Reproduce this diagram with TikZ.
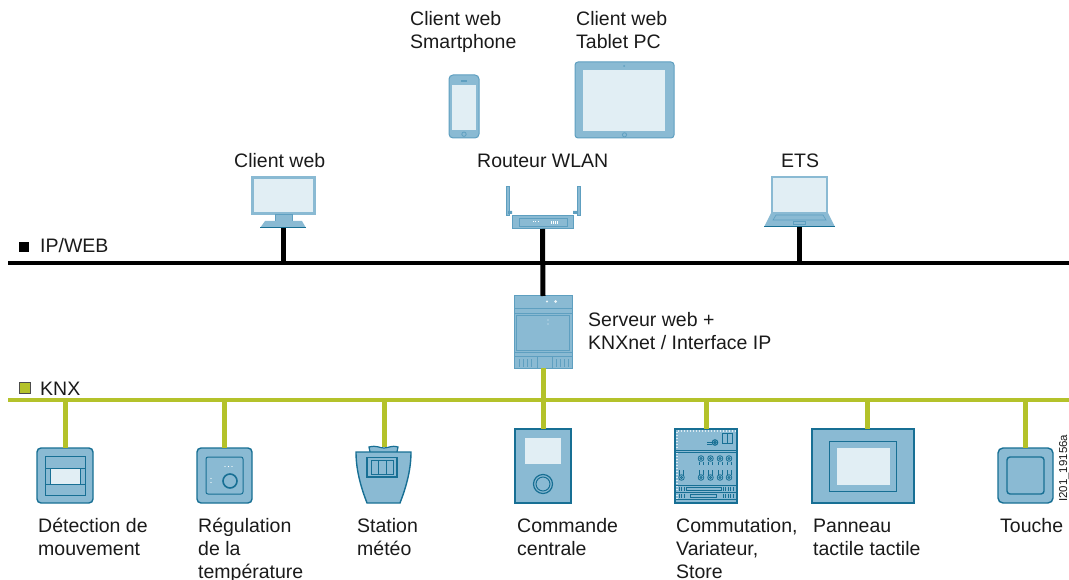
\documentclass[tikz,border=0pt]{standalone}
\usepackage{fontspec}
\setmainfont{Liberation Sans}
\definecolor{devfill}{HTML}{8ABAD3}
\definecolor{devline}{HTML}{176F94}
\definecolor{devsoft}{HTML}{5E9FC0}
\definecolor{scrfill}{HTML}{E1EEF4}
\definecolor{knxgreen}{HTML}{B4C22A}
\definecolor{txt}{HTML}{1A1A1A}
\begin{document}
\begin{tikzpicture}[x=1pt,y=-1pt,
  % multi-line labels sit on the baseline of their last line
  lbl/.style={inner sep=0pt, anchor=base west, align=left,
    font=\fontsize{19.5}{23}\selectfont, text=txt},
  ipbus/.style={line width=4.5pt, black},
  ipdrop/.style={line width=5pt, black},
  knxbus/.style={line width=4.7pt, knxgreen},
  knxdrop/.style={line width=5pt, knxgreen},
  dev/.style={fill=devfill, draw=devline, line width=1.4pt},
  devtop/.style={fill=devfill, draw=devsoft, line width=1pt},
  box/.style={inner sep=0pt, outer sep=0pt, minimum width=#1},
  scr/.style={fill=scrfill},
  detail/.style={draw=devline, line width=1pt}]
\useasboundingbox (0,0) rectangle (1069,580);

% ---------- bus lines ----------
\coordinate (ipL) at (8,263);
\coordinate (ipR) at (1069,263);
\coordinate (knxL) at (8,400);
\coordinate (knxR) at (1069,400);
\draw[ipbus] (ipL) -- (ipR);
\draw[knxbus] (knxL) -- (knxR);

% legends
\node[fill=black, inner sep=0pt, minimum size=10.5pt] (iplegend) at (24,247) {};
\node[lbl] (iptext) at (40,253) {IP/WEB};
\node[fill=knxgreen, draw=black!70, line width=0.8pt, inner sep=0pt, minimum size=10.5pt] (knxlegend) at (25,388) {};
\node[lbl] (knxtext) at (40,395) {KNX};

% ---------- smartphone ----------
\node[devtop, rounded corners=4pt, box=30pt, minimum height=63pt] (phone) at (464,106.5) {};
\fill[scr] (452,85) rectangle (476,130);
\fill[devsoft] (461,80) rectangle (467,81.8);
\draw[devsoft, line width=0.8pt] (464,134.2) circle (2.2);
\node[lbl] (phonelbl) at (410,49) {Client web\\Smartphone};

% ---------- tablet ----------
\node[devtop, rounded corners=3pt, box=99pt, minimum height=76pt] (tablet) at (624.5,100) {};
\fill[scr] (583,70) rectangle (665,131);
\fill[devsoft] (624,66) circle (1);
\draw[devsoft, line width=0.8pt] (624.5,134.8) circle (2.1);
\node[lbl] (tabletlbl) at (576,49) {Client web\\Tablet PC};

% ---------- desktop client ----------
\node[fill=scrfill, draw=devfill, line width=2.2pt, box=62pt, minimum height=36pt] (pc) at (283.5,195.5) {};
\fill[devfill] (275,214) rectangle (292,221);
\draw[devsoft, line width=0.6pt] (275,214) rectangle (292,221);
\fill[devfill] (265,221) -- (302,221) -- (306,228) -- (260,228) -- cycle;
\draw[devline, line width=1pt] (260,228) -- (306,228);
\coordinate (pcbase) at (283,228.5);
\node[lbl] (pclbl) at (234,168) {Client web};
\draw[ipdrop] (pcbase) -- (pcbase |- ipL);

% ---------- WLAN router ----------
\fill[devfill] (506,186) rectangle (509.5,215);
\fill[devfill] (577,186) rectangle (580.5,215);
\draw[devsoft, line width=0.5pt] (506,186) rectangle (509.5,215) (577,186) rectangle (580.5,215);
\fill[devsoft] (508,211) rectangle (512,214) (573,211) rectangle (577,214);
\node[devtop, box=61pt, minimum height=13pt] (router) at (542.5,222.5) {};
\draw[devsoft, line width=0.6pt] (519,218.5) rectangle (567,226.5);
\foreach \i in {0,1,2} \fill[white] (533+2.3*\i,221) rectangle ++(1,1.2);
\foreach \i in {0,1,2,3} \fill[white] (551+2*\i,221) rectangle ++(1,3);
\node[lbl] (routerlbl) at (477,168) {Routeur WLAN};

% ---------- ETS laptop ----------
\node[fill=scrfill, draw=devfill, line width=2.2pt, box=55pt, minimum height=36pt] (laptop) at (799.5,195) {};
\fill[devfill] (771,213) -- (828,213) -- (835,227) -- (764,227) -- cycle;
\draw[devsoft, line width=0.6pt] (776,215) -- (823,215) -- (826,220) -- (773,220) -- cycle;
\draw[devsoft, line width=0.6pt] (793,221) rectangle (805,224);
\draw[devline, line width=1pt] (764,227) -- (835,227);
\coordinate (laptopbase) at (799,227.5);
\node[lbl] (etslbl) at (781,168) {ETS};
\draw[ipdrop] (laptopbase) -- (laptopbase |- ipL);

% ---------- web server / KNXnet IP interface ----------
\node[devtop, box=58pt, minimum height=72pt] (server) at (543,332) {};
\draw[devsoft, line width=0.7pt] (514,308) -- (572,308) (514,313) -- (572,313);
\draw[devsoft, line width=0.7pt] (516.5,315) rectangle (569.5,350);
\draw[devsoft, line width=0.7pt] (514,352.5) -- (572,352.5) (514,356.5) -- (572,356.5);
\draw[devsoft, line width=0.7pt] (537,356.5) -- (537,368) (552,356.5) -- (552,368);
\foreach \x in {519,523,527,531, 556,560,564,568}
  \draw[devsoft, line width=0.7pt] (\x,359) -- (\x,367);
\fill[white!85!devfill] (547,301.5) circle (1.2) (555.5,301.5) circle (1.5);
\fill[white!80!devfill] (548,320) circle (0.7) (548,324) circle (0.7);
\node[lbl] (serverlbl) at (588,349) {Serveur web +\\KNXnet / Interface IP};
\draw[ipdrop] (router.south) -- (server.north);
\draw[knxdrop] (server.south) -- (server.south |- knxL);

% ---------- motion detector ----------
\node[dev, rounded corners=4pt, box=56pt, minimum height=55pt] (motion) at (65,475.5) {};
\draw[detail] (45,456) rectangle (85,495);
\fill[scr] (50,468) rectangle (80,484);
\draw[detail] (45,468) -- (85,468) (45,484) -- (85,484);
\draw[detail, line width=0.7pt] (50,468) -- (50,484) (80,468) -- (80,484);
\node[lbl] (motionlbl) at (38,555) {Détection de\\mouvement};
\draw[knxdrop] (motion.north) -- (motion.north |- knxL);

% ---------- temperature controller ----------
\node[dev, rounded corners=4pt, box=55pt, minimum height=55pt] (temp) at (224.5,475.5) {};
\draw[detail, rounded corners=2pt] (206,457) rectangle (243,494);
\draw[devline, line width=1.6pt] (230,481) circle (7);
\foreach \x in {225,228.5,232} \fill[white] (\x,466.5) circle (0.6);
\fill[white] (211,478.5) circle (0.6) (211,482.5) circle (0.6);
\node[lbl] (templbl) at (198,578) {Régulation\\de la\\température};
\draw[knxdrop] (temp.north) -- (temp.north |- knxL);

% ---------- weather station ----------
\draw[dev, line width=1.2pt] (370,452) -- (369,447) .. controls (377,445) and (379,448) .. (384,448)
  .. controls (389,448) and (391,445) .. (398,447) -- (397,452);
\draw[dev] (356,452) -- (411,452) .. controls (411,472) and (405,490) .. (400,503)
  -- (367,503) .. controls (362,490) and (356,472) .. (356,452) -- cycle;
\coordinate (meteotop) at (384,447);
\draw[detail, line width=1.2pt] (367,457.5) rectangle (397,477);
\draw[detail, line width=1pt] (371,460.5) rectangle (393.5,474);
\draw[detail, line width=1pt] (378.5,460.5) -- (378.5,474) (386,460.5) -- (386,474);
\node[lbl] (meteolbl) at (357,555) {Station\\météo};
\draw[knxdrop] (meteotop) -- (meteotop |- knxL);

% ---------- central control unit ----------
\node[dev, line width=1.2pt, box=56pt, minimum height=74pt] (central) at (543,466) {};
\fill[scr] (525,438) rectangle (561,464);
\draw[devline, line width=1.2pt] (543,484) circle (9.5);
\draw[devline, line width=1pt] (543,484) circle (7);
\node[lbl] (centrallbl) at (517,555) {Commande\\centrale};
\draw[knxdrop] (central.north) -- (central.north |- knxL);

% ---------- switching / dimming / blind actuator ----------
\node[dev, line width=1.2pt, box=62pt, minimum height=74pt] (actuator) at (706,466) {};
\foreach \x in {677.5,680.5,...,735} \fill[white!70!devfill] (\x,430.2) rectangle ++(1.2,1.3);
\foreach \y in {432,435,...,500} \fill[white!70!devfill] (676.2,\y) rectangle ++(1.3,1.2);
\draw[detail] (675,450) -- (737,450) (675,452) -- (737,452);
\draw[detail] (715,442.5) circle (2.8) (715,442.5) circle (1.2);
\draw[detail] (707,442.5) -- (712,442.5) (707,444.5) -- (712,444.5);
\draw[detail] (722.5,433) rectangle (732,443.5) (727.2,433) -- (727.2,443.5);
\foreach \x in {701,710.5,720,729} {
  \draw[detail, line width=0.8pt] (\x,458.5) circle (2.8) (\x,458.5) circle (1.1);
  \draw[detail, line width=0.8pt] (\x-2,461.5) -- (\x-2,465) (\x+2,461.5) -- (\x+2,465);
  \draw[detail, line width=0.8pt] (\x,477.5) circle (2.8) (\x,477.5) circle (1.1);
  \draw[detail, line width=0.8pt] (\x-2,470) -- (\x-2,474.5) (\x+2,470) -- (\x+2,474.5);
}
\draw[detail, line width=0.8pt] (681.5,477.5) circle (2.8) (681.5,477.5) circle (1.1);
\draw[detail, line width=0.8pt] (679.5,470) -- (679.5,474.5) (683.5,470) -- (683.5,474.5);
\draw[detail] (675,485) -- (737,485) (675,492) -- (737,492) (675,499) -- (737,499);
\draw[detail, line width=0.8pt] (686,487) rectangle (721,490) (690,494) rectangle (716,497);
\foreach \x in {679,681.5,...,685} \draw[detail, line width=0.6pt] (\x,486.5) -- (\x,490.5) (\x,493.5) -- (\x,497.5);
\foreach \x in {723,725.5,...,735} \draw[detail, line width=0.6pt] (\x,486.5) -- (\x,490.5) (\x,493.5) -- (\x,497.5);
\node[lbl] (actuatorlbl) at (676,578) {Commutation,\\Variateur,\\Store};
\draw[knxdrop] (actuator.north) -- (actuator.north |- knxL);

% ---------- touch panel ----------
\node[dev, line width=1.2pt, box=102pt, minimum height=74pt] (panel) at (863,466) {};
\draw[devline, line width=1.8pt] (829.5,441.5) rectangle (896.5,491.5);
\fill[scr] (837,448) rectangle (890,485);
\coordinate (paneltop) at (867,429);
\node[lbl] (panellbl) at (813,555) {Panneau\\tactile tactile};
\draw[knxdrop] (paneltop) -- (paneltop |- knxL);

% ---------- push button ----------
\node[dev, rounded corners=5pt, box=55pt, minimum height=55pt] (button) at (1025.5,475.5) {};
\draw[devline, line width=1.4pt, rounded corners=3pt] (1007,457) rectangle (1044,494);
\node[lbl] (buttonlbl) at (1000,532) {Touche};
\draw[knxdrop] (button.north) -- (button.north |- knxL);

% drawing reference number
\node[inner sep=0pt, anchor=base west, rotate=90, text=txt,
  font=\fontsize{11.5}{12}\selectfont] (refno) at (1067,502) {I201\_19156a};
\end{tikzpicture}
\end{document}
